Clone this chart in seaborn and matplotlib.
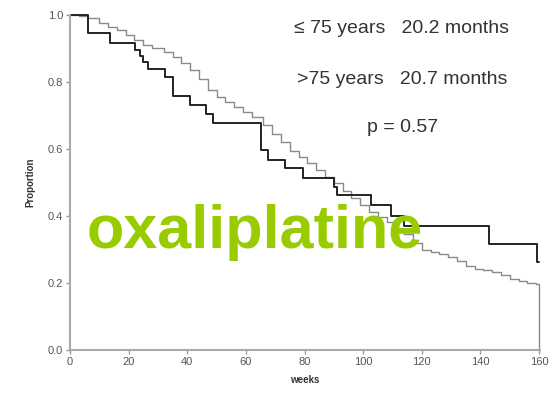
import seaborn as sns
import pandas as pd
import matplotlib
matplotlib.use("Agg")
import matplotlib.pyplot as plt

# <= 75 years (gray curve)
weeks_young = [0, 3, 6, 10, 13, 16, 19, 22, 25, 28, 32, 35, 38, 41, 44, 47, 50, 53, 56, 59,
               62, 66, 69, 72, 75, 78, 81, 84, 87, 90, 93, 96, 99, 102, 105, 108, 111, 114,
               117, 120, 123, 126, 129, 132, 135, 138, 141, 144, 147, 150, 153, 156, 159, 160, 160]
surv_young = [1.0, 0.997, 0.99, 0.975, 0.965, 0.955, 0.94, 0.925, 0.912, 0.903, 0.89, 0.876,
              0.858, 0.835, 0.808, 0.776, 0.756, 0.74, 0.725, 0.71, 0.695, 0.672, 0.645, 0.62,
              0.595, 0.577, 0.557, 0.537, 0.517, 0.498, 0.475, 0.455, 0.433, 0.413, 0.398,
              0.382, 0.362, 0.345, 0.32, 0.299, 0.292, 0.286, 0.278, 0.265, 0.25, 0.242,
              0.239, 0.233, 0.225, 0.212, 0.205, 0.2, 0.198, 0.198, 0.0]

# > 75 years (black curve)
weeks_old = [0, 6.2, 13.6, 22.1, 23.8, 25, 26.7, 32.3, 35.2, 41.1, 46.5, 48.8, 65.2, 67.5,
             73.2, 79.4, 90.2, 91, 102.6, 109.5, 114, 143, 159.4, 160]
surv_old = [1.0, 0.945, 0.918, 0.896, 0.878, 0.86, 0.84, 0.814, 0.759, 0.731, 0.705, 0.677,
            0.597, 0.567, 0.542, 0.515, 0.487, 0.463, 0.433, 0.4, 0.37, 0.318, 0.264, 0.264]

legend_lines = ["\u2264 75 years   20.2 months", ">75 years   20.7 months", "p = 0.57"]

df_young = pd.DataFrame({"weeks": weeks_young, "Proportion": surv_young})
df_old = pd.DataFrame({"weeks": weeks_old, "Proportion": surv_old})

sns.set_style("white")
plt.rcParams["font.family"] = ["Liberation Sans", "DejaVu Sans"]

fig = plt.figure(figsize=(5.55, 3.96), dpi=100)
ax = fig.add_axes([0.126, 0.116, 0.847, 0.846])

sns.lineplot(data=df_young, x="weeks", y="Proportion", ax=ax, color="#8a8a8a",
             linewidth=1.0, drawstyle="steps-post", sort=False, estimator=None,
             clip_on=False)
sns.lineplot(data=df_old, x="weeks", y="Proportion", ax=ax, color="#222222",
             linewidth=1.4, drawstyle="steps-post", sort=False, estimator=None,
             clip_on=False)

ax.set_xlim(0, 160.3)
ax.set_ylim(0, 1.0)
ax.set_xticks(range(0, 161, 20))
ax.set_yticks([0.0, 0.2, 0.4, 0.6, 0.8, 1.0])
ax.set_yticklabels(["0.0", "0.2", "0.4", "0.6", "0.8", "1.0"])
sns.despine(ax=ax)
for s in ["left", "bottom"]:
    ax.spines[s].set_color("#aaaaaa")
    ax.spines[s].set_linewidth(1.5)
ax.tick_params(axis="both", direction="out", length=3, width=1, color="#999999",
               labelsize=8, labelcolor="#555555", pad=2, bottom=True, left=True)

ax.set_xlabel("weeks", fontsize=7, fontweight="bold", color="#333333", labelpad=6)
ax.set_ylabel("Proportion", fontsize=7, fontweight="bold", color="#333333", labelpad=9)

ax.text(0.706, 0.96, legend_lines[0], transform=ax.transAxes, ha="center", va="center",
        fontsize=14, color="#333333")
ax.text(0.706, 0.808, legend_lines[1], transform=ax.transAxes, ha="center", va="center",
        fontsize=14, color="#333333")
ax.text(0.708, 0.665, legend_lines[2], transform=ax.transAxes, ha="center", va="center",
        fontsize=14, color="#333333")

ax.text(0.394, 0.35, "oxaliplatine", transform=ax.transAxes, ha="center", va="center",
        fontsize=44, fontweight="bold", color="#99cc00")

fig.savefig("out.png", dpi=100)
